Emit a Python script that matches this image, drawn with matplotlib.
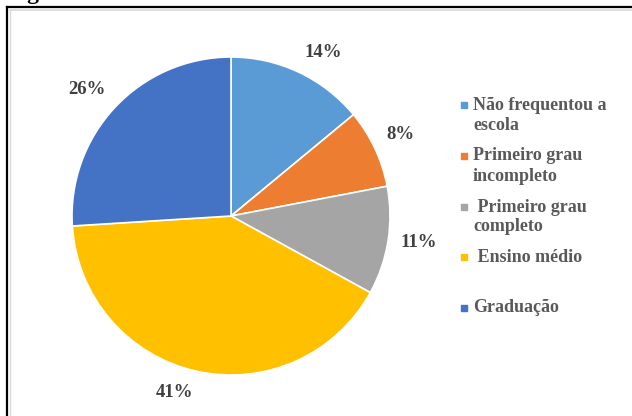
import numpy as np
import matplotlib
matplotlib.use("Agg")
import matplotlib.pyplot as plt
from matplotlib.patches import Rectangle
from matplotlib.lines import Line2D

# Escolaridade dos entrevistados
categorias = ["Não frequentou a\nescola", "Primeiro grau\nincompleto",
              " Primeiro grau\ncompleto", " Ensino médio", "Graduação"]
percentuais = [14, 8, 11, 41, 26]
cores = ["#5B9BD5", "#ED7D31", "#A5A5A5", "#FFC000", "#4472C4"]
titulo = "Figura 8: Grau de escolaridade"

W, H = 632, 416
fig = plt.figure(figsize=(W / 100, H / 100), dpi=100)
fig.patch.set_facecolor("white")

serif = ["Liberation Serif", "DejaVu Serif"]
cinza_leg = "#595959"
cinza_rot = "#404040"

# Moldura da figura
fig.add_artist(Line2D([7 / W, 7 / W], [0, 1 - 7 / H], color="black", lw=1.6))
fig.add_artist(Line2D([7 / W, 1.0], [1 - 7 / H, 1 - 7 / H], color="black", lw=1.6))
fig.add_artist(Line2D([9.5 / W, 1.0], [1 - 10 / H, 1 - 10 / H], color="#d9d9d9", lw=1.2))
fig.add_artist(Line2D([9.5 / W, 9.5 / W], [0, 1 - 10 / H], color="#d9d9d9", lw=1.0))

# Título (cortado pela borda superior)
fig.text(6 / W, 1 + 0.5 / H, titulo, fontsize=17, fontweight="bold",
         family=serif, color="black", ha="left", va="baseline")

# Gráfico de pizza
cx, cy, r = 231, 216, 159
ax = fig.add_axes([(cx - r) / W, (H - cy - r) / H, 2 * r / W, 2 * r / H])
wedges, _ = ax.pie(
    percentuais, colors=cores, startangle=90, counterclock=False,
    wedgeprops=dict(edgecolor="white", linewidth=1.2),
)
ax.set_aspect("equal")
ax.set_xlim(-1, 1)
ax.set_ylim(-1, 1)
ax.axis("off")

# Rótulos de porcentagem fora das fatias
for w, p in zip(wedges, percentuais):
    ang = np.deg2rad((w.theta1 + w.theta2) / 2)
    c, s = np.cos(ang), np.sin(ang)
    x, y = 1.08 * c, 1.08 * s
    ha = "left" if c > 0 else "right"
    va = "center" if abs(s) < 0.3 else ("bottom" if s > 0 else "top")
    ax.text(x, y, f"{p}%", ha=ha, va=va, fontsize=13.5, fontweight="bold",
            family=serif, color=cinza_rot, clip_on=False)

# Legenda
marcadores_y = [105, 156, 207, 257, 308]
for cat, cor, y in zip(categorias, cores, marcadores_y):
    fig.add_artist(Rectangle(((464 - 3) / W, 1 - (y + 3) / H), 6 / W, 6 / H,
                             transform=fig.transFigure, color=cor))
    for i, linha in enumerate(cat.split("\n")):
        fig.text(473 / W, 1 - (y + 20 * i) / H, linha, fontsize=13,
                 fontweight="bold", family=serif, color=cinza_leg,
                 ha="left", va="center")

fig.savefig("out.png", dpi=100, facecolor="white")
